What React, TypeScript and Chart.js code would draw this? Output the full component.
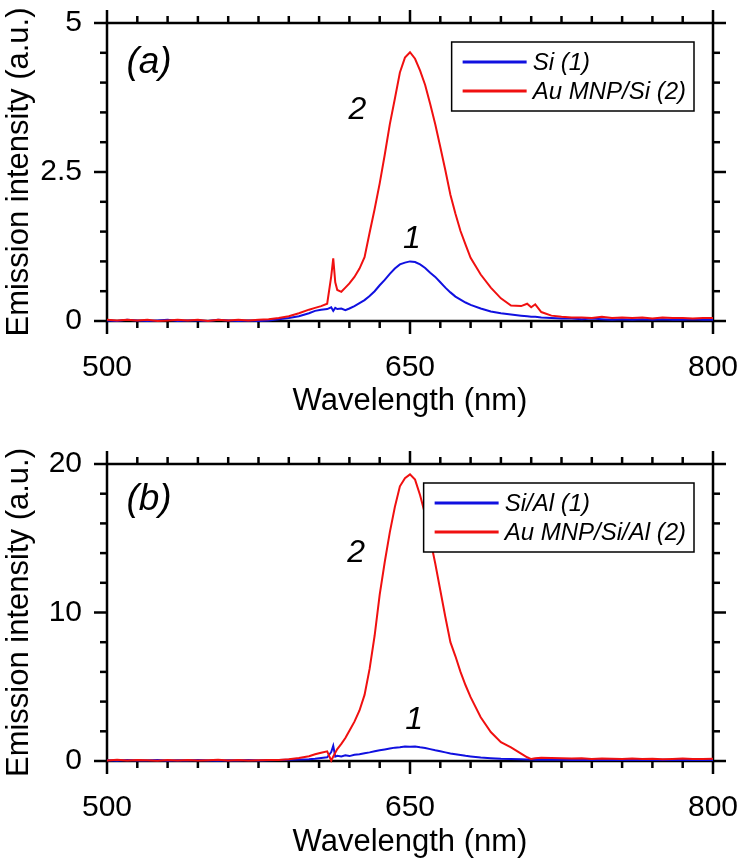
import React, { useEffect, useRef } from "react";
import { Chart, registerables } from "chart.js";
Chart.register(...registerables);

const FONT = "'Liberation Sans', Arial, Helvetica, sans-serif";
const BLUE = "#1010e0";
const RED = "#f01010";

// Wavelength sampling (nm)
const wavelengths = [
  500, 505, 510, 515, 520, 525, 530, 535, 540, 545, 550, 555, 560, 565, 570, 575, 580, 585,
  590, 595, 600, 603, 606, 609, 611, 612, 613, 614, 616, 618, 620,
  622.5, 625, 627.5, 630, 632.5, 635, 637.5, 640, 642.5, 645, 647.5, 650, 652.5, 655, 657.5, 660,
  662.5, 665, 667.5, 670, 672.5, 675, 677.5, 680,
  685, 690, 695, 700, 705, 708, 710, 712, 715, 720, 725,
  730, 735, 740, 745, 750, 755, 760, 765, 770, 775, 780, 785, 790, 795, 800,
];

// Panel (a)
const siA = [
  0.01, 0.0, 0.02, 0.01, 0.0, 0.01, 0.02, 0.0, 0.01, 0.01, 0.0, 0.02, 0.01, 0.0, 0.01, 0.0, 0.01, 0.03,
  0.05, 0.08, 0.13, 0.17, 0.19, 0.2, 0.23, 0.17, 0.22, 0.2, 0.21, 0.18, 0.21,
  0.25, 0.3, 0.35, 0.42, 0.5, 0.6, 0.69, 0.79, 0.88, 0.95, 0.98, 1.0, 0.99, 0.95, 0.89, 0.81,
  0.74, 0.65, 0.56, 0.48, 0.41, 0.36, 0.31, 0.27,
  0.21, 0.16, 0.13, 0.11, 0.09, 0.08, 0.07, 0.07, 0.06, 0.05, 0.04,
  0.04, 0.03, 0.04, 0.03, 0.02, 0.03, 0.02, 0.03, 0.02, 0.03, 0.02, 0.02, 0.03, 0.02, 0.02,
];
const auSiA = [
  0.02, 0.01, 0.02, 0.01, 0.02, 0.0, 0.01, 0.02, 0.01, 0.02, 0.0, 0.02, 0.01, 0.02, 0.01, 0.02, 0.03, 0.05,
  0.08, 0.13, 0.19, 0.22, 0.25, 0.29, 0.75, 1.05, 0.65, 0.52, 0.49, 0.56, 0.63,
  0.74, 0.88, 1.07, 1.48, 1.88, 2.31, 2.79, 3.3, 3.73, 4.17, 4.42, 4.51, 4.4, 4.2, 3.96, 3.64,
  3.3, 2.92, 2.53, 2.12, 1.8, 1.51, 1.28, 1.06,
  0.78, 0.56, 0.38, 0.26, 0.25, 0.29, 0.23, 0.28, 0.15, 0.09, 0.07,
  0.06, 0.06, 0.05, 0.07, 0.05, 0.06, 0.05, 0.06, 0.04, 0.06, 0.05, 0.05, 0.04, 0.05, 0.05,
];

// Panel (b)
const siAlB = [
  0.05, 0.02, 0.06, 0.03, 0.04, 0.07, 0.02, 0.05, 0.03, 0.06, 0.04, 0.02, 0.05, 0.03, 0.06, 0.04, 0.05, 0.06,
  0.08, 0.1, 0.12, 0.15, 0.2, 0.25, 0.6, 1.02, 0.29, 0.35, 0.3, 0.38, 0.33,
  0.42, 0.45, 0.52, 0.58, 0.65, 0.72, 0.78, 0.84, 0.9, 0.93, 0.98, 0.96, 0.97, 0.92, 0.88, 0.8,
  0.72, 0.65, 0.58, 0.5, 0.45, 0.4, 0.35, 0.31,
  0.24, 0.19, 0.15, 0.13, 0.11, 0.1, 0.1, 0.09, 0.09, 0.08, 0.08,
  0.07, 0.08, 0.06, 0.08, 0.07, 0.06, 0.08, 0.07, 0.06, 0.08, 0.07, 0.06, 0.07, 0.06, 0.07,
];
const auSiAlB = [
  0.04, 0.08, 0.03, 0.06, 0.05, 0.02, 0.07, 0.04, 0.06, 0.03, 0.05, 0.08, 0.04, 0.06, 0.03, 0.05, 0.06, 0.07,
  0.12, 0.2, 0.32, 0.45, 0.55, 0.65, 0.02, 0.3, 0.55, 0.8, 1.15, 1.55, 2.03,
  2.65, 3.4, 4.45, 6.2, 8.45, 11.2, 13.4, 15.4, 17.1, 18.5, 19.05, 19.3, 18.95, 17.9, 16.6, 14.95,
  13.3, 11.5, 9.7, 8.0, 7.05, 6.0, 5.1, 4.3,
  2.95, 1.95, 1.27, 0.92, 0.5, 0.25, 0.13, 0.18, 0.22, 0.2, 0.18,
  0.16, 0.18, 0.14, 0.17, 0.15, 0.13, 0.16, 0.14, 0.15, 0.12, 0.14, 0.16, 0.13, 0.14, 0.15,
];

// Axis ticks
const xMin = 500;
const xMax = 800;
const xTickLabels = [500, 650, 800];
const xMinorStep = 15;
const yTicksA = [0, 2.5, 5];
const yMinorStepA = 0.5;
const yTicksB = [0, 10, 20];
const yMinorStepB = 2;

const legendA = ["Si (1)", "Au MNP/Si (2)"];
const legendB = ["Si/Al (1)", "Au MNP/Si/Al (2)"];

const notesA = [
  { text: "(a)", x: 520.8, y: 4.34, size: 37 },
  { text: "2", x: 624, y: 3.54, size: 32 },
  { text: "1", x: 651, y: 1.38, size: 32 },
];
const notesB = [
  { text: "(b)", x: 520.8, y: 17.6, size: 37 },
  { text: "2", x: 623.3, y: 14.0, size: 32 },
  { text: "1", x: 652, y: 2.76, size: 32 },
];

const framePlugin = {
  id: "frame",
  beforeDatasetsDraw(chart: any, _args: any, opts: any) {
    const { ctx, chartArea } = chart;
    const { left, right, top, bottom } = chartArea;
    const xs = chart.scales.x;
    const ys = chart.scales.y;
    ctx.save();
    ctx.strokeStyle = "#000";
    ctx.lineWidth = 2.5;
    ctx.lineCap = "butt";
    ctx.strokeRect(left, top, right - left, bottom - top);
    const seg = (x1: number, y1: number, x2: number, y2: number) => {
      ctx.beginPath();
      ctx.moveTo(x1, y1);
      ctx.lineTo(x2, y2);
      ctx.stroke();
    };
    const isMajor = (arr: number[], v: number) => arr.some((m) => Math.abs(m - v) < 1e-6);
    const nx = Math.round((xs.max - xs.min) / opts.xMinor);
    for (let i = 0; i <= nx; i++) {
      const v = xs.min + i * opts.xMinor;
      const p = xs.getPixelForValue(v);
      const len = isMajor(opts.xMajor, v) ? 13 : 7;
      seg(p, bottom, p, bottom + len);
      seg(p, top, p, top - len);
    }
    const ny = Math.round((ys.max - ys.min) / opts.yMinor);
    for (let i = 0; i <= ny; i++) {
      const v = ys.min + i * opts.yMinor;
      const p = ys.getPixelForValue(v);
      const len = isMajor(opts.yMajor, v) ? 13 : 7;
      seg(left - len, p, left, p);
      seg(right, p, right + len, p);
    }
    ctx.restore();
  },
};

const legendPlugin = {
  id: "legendBox",
  afterDatasetsDraw(chart: any) {
    const { ctx, chartArea } = chart;
    ctx.save();
    ctx.font = `italic 24px ${FONT}`;
    const datasets = chart.data.datasets;
    let tw = 0;
    datasets.forEach((d: any) => {
      tw = Math.max(tw, ctx.measureText(d.label).width);
    });
    const lineLen = 64;
    const w = 11 + lineLen + 6 + tw + 8;
    const h = 69;
    const x0 = chartArea.right - 19 - w;
    const y0 = chartArea.top + 19;
    ctx.fillStyle = "#fff";
    ctx.fillRect(x0, y0, w, h);
    ctx.strokeStyle = "#000";
    ctx.lineWidth = 1.5;
    ctx.strokeRect(x0, y0, w, h);
    datasets.forEach((d: any, i: number) => {
      const cy = y0 + 20 + i * 29;
      ctx.strokeStyle = d.borderColor;
      ctx.lineWidth = 3;
      ctx.beginPath();
      ctx.moveTo(x0 + 11, cy);
      ctx.lineTo(x0 + 11 + lineLen, cy);
      ctx.stroke();
      ctx.fillStyle = "#000";
      ctx.textBaseline = "middle";
      ctx.textAlign = "left";
      ctx.fillText(d.label, x0 + 11 + lineLen + 6, cy + 1);
    });
    ctx.restore();
  },
};

const notesPlugin = {
  id: "notes",
  afterDatasetsDraw(chart: any, _args: any, opts: any) {
    const { ctx } = chart;
    const xs = chart.scales.x;
    const ys = chart.scales.y;
    ctx.save();
    ctx.fillStyle = "#000";
    ctx.textAlign = "center";
    ctx.textBaseline = "middle";
    (opts.items || []).forEach((n: any) => {
      ctx.font = `italic ${n.size}px ${FONT}`;
      ctx.fillText(n.text, xs.getPixelForValue(n.x), ys.getPixelForValue(n.y));
    });
    ctx.restore();
  },
};

const zeroPad = (s: any) => {
  s.paddingLeft = 0;
  s.paddingRight = 0;
  s.paddingTop = 0;
  s.paddingBottom = 0;
};

type PanelProps = {
  width: number;
  height: number;
  padTop: number;
  xAxisH: number;
  yMax: number;
  yTicks: number[];
  yMinor: number;
  labels: string[];
  blue: number[];
  red: number[];
  notes: any[];
};

function Panel(p: PanelProps) {
  const ref = useRef<HTMLCanvasElement | null>(null);
  useEffect(() => {
    if (!ref.current) return;
    const mk = (vals: number[]) => wavelengths.map((w, i) => ({ x: w, y: vals[i] }));
    const chart = new Chart(ref.current, {
      type: "line",
      data: {
        datasets: [
          {
            label: p.labels[0],
            data: mk(p.blue),
            borderColor: BLUE,
            borderWidth: 2,
            pointRadius: 0,
            tension: 0,
            order: 1,
            clip: 6,
          },
          {
            label: p.labels[1],
            data: mk(p.red),
            borderColor: RED,
            borderWidth: 2,
            pointRadius: 0,
            tension: 0,
            order: 0,
            clip: 6,
          },
        ],
      },
      options: {
        animation: false,
        responsive: false,
        events: [],
        layout: { padding: { top: p.padTop, right: 32, left: 0, bottom: 0 } },
        plugins: {
          legend: { display: false },
          tooltip: { enabled: false },
          frame: { xMinor: xMinorStep, xMajor: xTickLabels, yMinor: p.yMinor, yMajor: p.yTicks },
          notes: { items: p.notes },
        } as any,
        scales: {
          x: {
            type: "linear",
            min: xMin,
            max: xMax,
            afterBuildTicks: (s: any) => {
              s.ticks = xTickLabels.map((v) => ({ value: v }));
            },
            afterFit: (s: any) => {
              s.height = p.xAxisH;
              zeroPad(s);
            },
            grid: { display: false, drawTicks: false },
            border: { display: false },
            ticks: {
              font: { family: FONT, size: 30 },
              color: "#000",
              padding: 29,
              maxRotation: 0,
              autoSkip: false,
            },
            title: {
              display: true,
              text: "Wavelength (nm)",
              font: { family: FONT, size: 31 },
              color: "#000",
              padding: { top: 0, bottom: 5 },
            },
          },
          y: {
            type: "linear",
            min: 0,
            max: p.yMax,
            afterBuildTicks: (s: any) => {
              s.ticks = p.yTicks.map((v) => ({ value: v }));
            },
            afterFit: (s: any) => {
              s.width = 107;
              zeroPad(s);
            },
            grid: { display: false, drawTicks: false },
            border: { display: false },
            ticks: {
              font: { family: FONT, size: 30 },
              color: "#000",
              padding: 25,
              callback: (v: any) => String(v),
            },
            title: {
              display: true,
              text: "Emission intensity (a.u.)",
              font: { family: FONT, size: 31 },
              color: "#000",
              padding: { top: 1, bottom: 0 },
            },
          },
        },
      },
      plugins: [framePlugin, legendPlugin, notesPlugin],
    });
    return () => chart.destroy();
  }, []);
  return <canvas ref={ref} width={p.width} height={p.height} style={{ display: "block" }} />;
}

export default function App() {
  return (
    <div style={{ position: "absolute", left: 0, top: 0, width: 745, height: 866, background: "#fff" }}>
      <div style={{ position: "absolute", left: 0, top: 0 }}>
        <Panel
          width={745}
          height={425}
          padTop={23}
          xAxisH={104}
          yMax={5}
          yTicks={yTicksA}
          yMinor={yMinorStepA}
          labels={legendA}
          blue={siA}
          red={auSiA}
          notes={notesA}
        />
      </div>
      <div style={{ position: "absolute", left: 0, top: 430 }}>
        <Panel
          width={745}
          height={436}
          padTop={34}
          xAxisH={105}
          yMax={20}
          yTicks={yTicksB}
          yMinor={yMinorStepB}
          labels={legendB}
          blue={siAlB}
          red={auSiAlB}
          notes={notesB}
        />
      </div>
    </div>
  );
}
